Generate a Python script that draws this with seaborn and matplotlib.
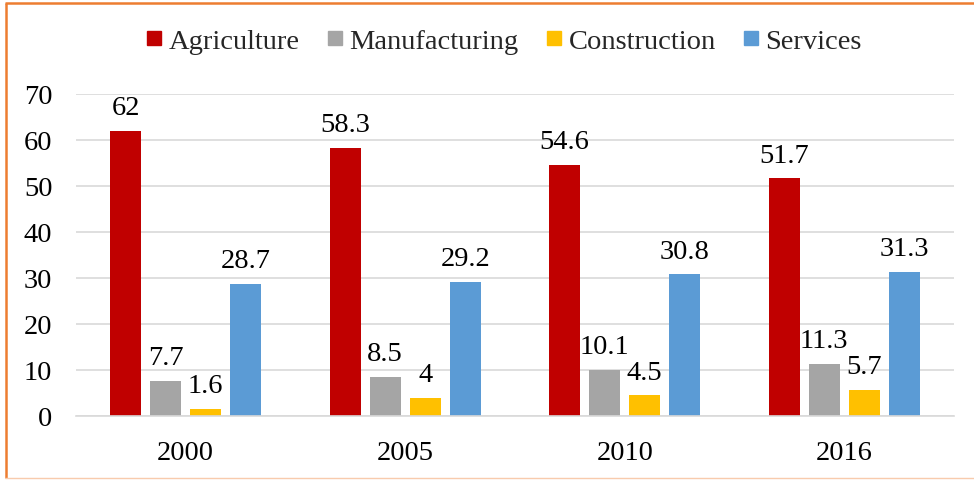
import pandas as pd
import seaborn as sns
import matplotlib.pyplot as plt
from matplotlib.lines import Line2D

years = ['2000', '2005', '2010', '2016']
sectors = ['Agriculture', 'Manufacturing', 'Construction', 'Services']
agriculture = [62, 58.3, 54.6, 51.7]
manufacturing = [7.7, 8.5, 10.1, 11.3]
construction = [1.6, 4, 4.5, 5.7]
services = [28.7, 29.2, 30.8, 31.3]
colors = ['#C00000', '#A5A5A5', '#FFC000', '#5B9BD5']

df = pd.DataFrame({'year': years, 'Agriculture': agriculture,
                   'Manufacturing': manufacturing, 'Construction': construction,
                   'Services': services})
df = df.melt(id_vars='year', var_name='sector', value_name='value')

sns.set_style('white')
plt.rcParams['font.family'] = ['Liberation Serif', 'DejaVu Serif']

W, H = 974, 481
fig = plt.figure(figsize=(W / 100, H / 100), dpi=100)
ax = fig.add_axes([76 / W, 1 - 417 / H, (954 - 76) / W, (417 - 95) / H])

sns.barplot(data=df, x='year', y='value', hue='sector', hue_order=sectors,
            palette=colors, width=0.729, gap=0.225, ax=ax, legend=False,
            saturation=1, edgecolor='none')

for c in ax.containers:
    labels = ['%g' % v for v in c.datavalues]
    for bar, lab in zip(c, labels):
        ax.annotate(lab, (bar.get_x() + bar.get_width() / 2, bar.get_height()),
                    xytext=(0, 12), textcoords='offset points',
                    ha='center', va='baseline', fontsize=20.5, color='black')

ax.set_ylim(0, 70)
ax.set_xlim(-0.5, 3.5)
ax.set_yticks(range(0, 71, 10))
ax.yaxis.grid(True, color='#D9D9D9', linewidth=1.2)
ax.set_axisbelow(True)
for s in ['top', 'right', 'left']:
    ax.spines[s].set_visible(False)
ax.spines['bottom'].set_color('#D9D9D9')
ax.spines['bottom'].set_linewidth(1.2)
ax.tick_params(axis='both', length=0, labelsize=20.5, colors='black')
ax.tick_params(axis='y', pad=17)
ax.tick_params(axis='x', pad=17)
ax.set_xlabel('')
ax.set_ylabel('')

handles = [Line2D([], [], marker='s', linestyle='none', markersize=10,
                  markerfacecolor=col, markeredgecolor=col) for col in colors]
fig.legend(handles, sectors, loc='center', bbox_to_anchor=(501 / W, 1 - 42 / H),
           ncol=4, frameon=False, fontsize=20.5, handletextpad=0.0,
           columnspacing=0.75, handlelength=1.0)

# orange frame: left and top strong, bottom faint
fig.add_artist(Line2D([6 / W, 6 / W], [1 - 3.5 / H, 1 - 479 / H], transform=fig.transFigure,
                      color='#ED7D31', linewidth=1.8, solid_capstyle='butt'))
fig.add_artist(Line2D([5 / W, 1], [1 - 3.5 / H, 1 - 3.5 / H], transform=fig.transFigure,
                      color='#ED7D31', linewidth=1.8, solid_capstyle='butt'))
fig.add_artist(Line2D([5 / W, 1], [1 - 478.5 / H, 1 - 478.5 / H], transform=fig.transFigure,
                      color='#F8CBAD', linewidth=1.0, solid_capstyle='butt'))

fig.savefig('out.png', dpi=100)
